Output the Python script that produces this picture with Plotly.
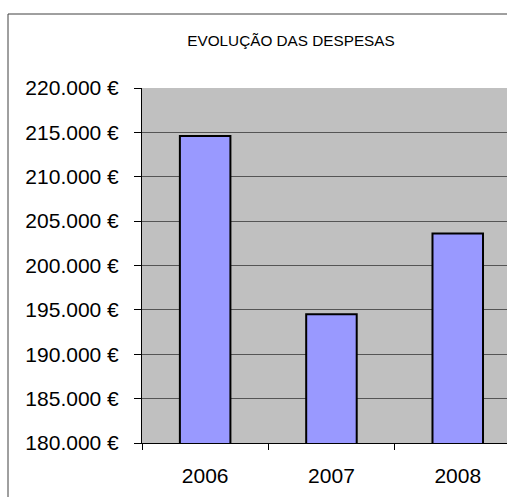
import plotly.graph_objects as go

# Data
years = ["2006", "2007", "2008"]
despesas = [214600, 194500, 203600]
y_tickvals = [180000, 185000, 190000, 195000, 200000, 205000, 210000, 215000, 220000]
y_ticktext = ["180.000 €", "185.000 €", "190.000 €", "195.000 €", "200.000 €",
              "205.000 €", "210.000 €", "215.000 €", "220.000 €"]
title_text = "EVOLUÇÃO DAS DESPESAS"

W, H = 507, 497
ml, mr, mt, mb = 142, 0, 88, 54
pw, ph = W - ml - mr, H - mt - mb
cat_px = 126.3

fig = go.Figure(go.Bar(
    x=years, y=despesas,
    marker=dict(color="#9999FF", line=dict(color="black", width=2)),
    width=0.4,
))

def px_to_paper_x(px):
    return (px - ml) / pw

def px_to_paper_y(py):
    return (H - mb - py) / ph

fig.update_layout(
    width=W, height=H,
    margin=dict(l=ml, r=mr, t=mt, b=mb, pad=0),
    paper_bgcolor="white",
    plot_bgcolor="#C0C0C0",
    showlegend=False,
    font=dict(family="Liberation Sans, Arial, sans-serif", color="black"),
    title=dict(text=title_text, font=dict(size=15.3, color="black"),
               xref="container", yref="container",
               x=291 / W, y=1 - 41 / H, xanchor="center", yanchor="middle"),
    xaxis=dict(
        type="category",
        range=[-0.5, -0.5 + pw / cat_px],
        showline=True, linecolor="black", linewidth=1,
        ticks="outside", ticklen=6, tickcolor="black", tickwidth=1,
        tickson="boundaries",
        showgrid=False, zeroline=False,
        tickfont=dict(size=21),
        ticklabelstandoff=14,
        fixedrange=True,
    ),
    yaxis=dict(
        range=[180000, 220000],
        tickvals=y_tickvals, ticktext=y_ticktext,
        showline=True, linecolor="black", linewidth=1,
        ticks="outside", ticklen=7, tickcolor="black", tickwidth=1,
        showgrid=True, gridcolor="#555555", gridwidth=1,
        zeroline=False,
        tickfont=dict(size=21),
        ticklabelstandoff=11,
        fixedrange=True,
    ),
    shapes=[dict(
        type="rect", xref="paper", yref="paper",
        x0=px_to_paper_x(8), x1=px_to_paper_x(W + 20),
        y0=px_to_paper_y(H + 20), y1=px_to_paper_y(14),
        line=dict(color="#404040", width=1), fillcolor="rgba(0,0,0,0)",
        layer="above",
    )],
)

fig.write_html(
    "out.html",
    config={"displayModeBar": False},
    post_script="document.body.style.margin='0';document.body.style.overflow='hidden';",
)
